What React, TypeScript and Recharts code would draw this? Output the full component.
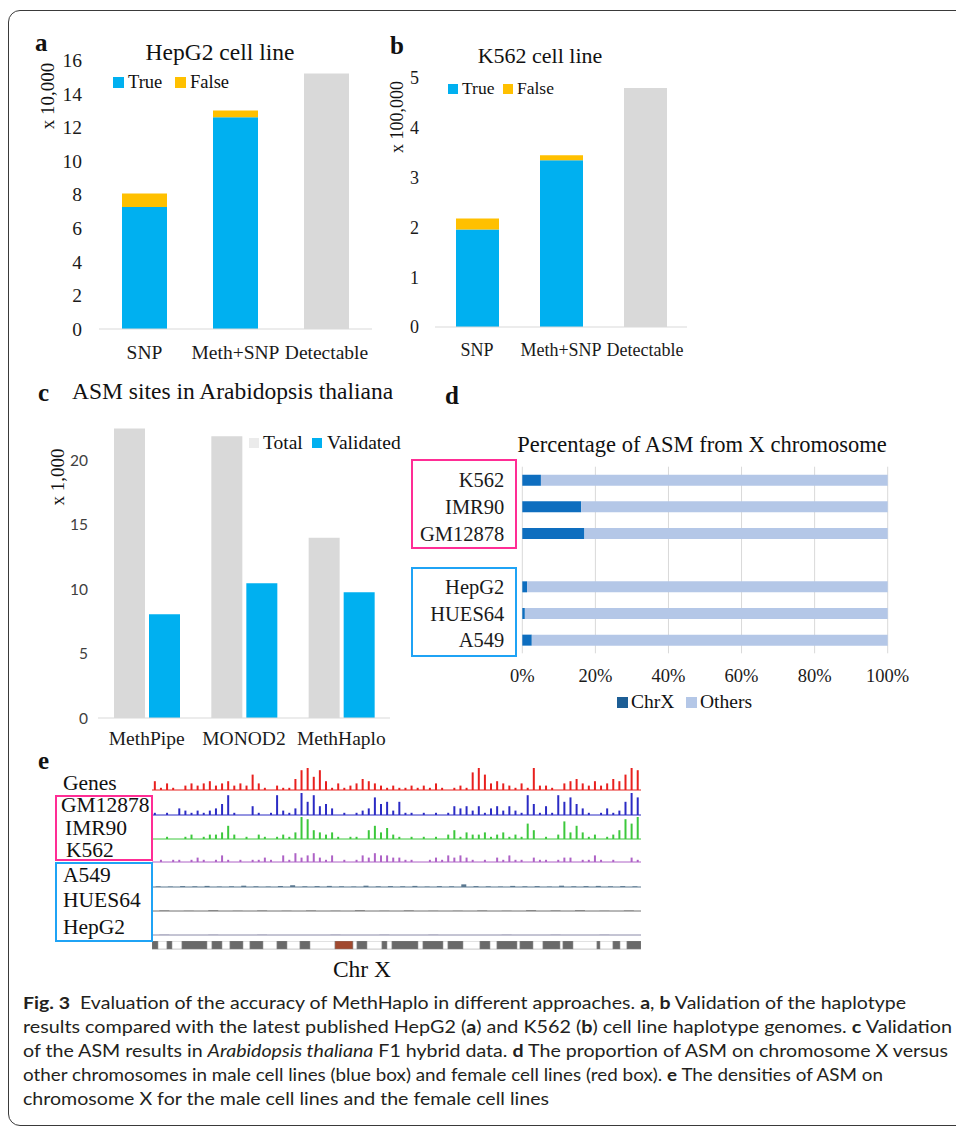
import React from "react";
import { Bar, BarChart, CartesianGrid, ReferenceLine, XAxis, YAxis } from "recharts";

const SERIF = '"Liberation Serif", "Times New Roman", serif';
const SANS = 'Lato, "Liberation Sans", sans-serif';

// a: HepG2 cell line (x 10,000)
const hepCategories = ["SNP", "Meth+SNP", "Detectable"];
const hepTrue = [7.26, 12.6, 0];
const hepFalse = [0.8, 0.4, 0];
const hepDetectable = [0, 0, 15.2];
const hepTicks = [0, 2, 4, 6, 8, 10, 12, 14, 16];

// b: K562 cell line (x 100,000)
const k562Categories = ["SNP", "Meth+SNP", "Detectable"];
const k562True = [1.96, 3.35, 0];
const k562False = [0.22, 0.1, 0];
const k562Detectable = [0, 0, 4.8];
const k562Ticks = [0, 1, 2, 3, 4, 5];

// c: ASM sites in Arabidopsis thaliana (x 1,000)
const toolNames = ["MethPipe", "MONOD2", "MethHaplo"];
const asmTotal = [22.5, 21.9, 14.0];
const asmValidated = [8.06, 10.47, 9.77];
const asmTicks = [0, 5, 10, 15, 20];

// d: percentage of ASM from chrX
const cellLines = ["K562", "IMR90", "GM12878", "", "HepG2", "HUES64", "A549"];
const chrXPct = [5.1, 16.1, 17.0, 0, 1.3, 0.7, 2.6];
const othersPct = [94.9, 83.9, 83.0, 0, 98.7, 99.3, 97.4];
const pctTicks = [0, 20, 40, 60, 80, 100];

// e: ASM density along chr X (binned, 0-10)
const genesDensity = [
  4, 1, 3, 1, 0, 2, 3, 2, 3, 4, 2, 3, 4, 2, 3, 2, 7, 3, 1, 0,
  2, 1, 1, 5, 9, 10, 6, 9, 4, 1, 3, 1, 2, 3, 5, 4, 3, 2, 1, 2,
  1, 1, 2, 1, 2, 1, 3, 1, 0, 1, 2, 1, 8, 10, 7, 3, 4, 3, 2, 1,
  3, 1, 10, 2, 2, 1, 0, 3, 4, 5, 3, 2, 4, 2, 3, 5, 4, 7, 10, 9,
];
const gm12878Density = [
  1, 0, 1, 0, 3, 2, 1, 2, 1, 2, 3, 5, 9, 1, 0, 0, 4, 1, 0, 1,
  9, 2, 1, 3, 10, 6, 9, 4, 5, 3, 0, 1, 0, 1, 2, 3, 8, 5, 6, 2,
  6, 1, 1, 0, 1, 0, 1, 0, 1, 4, 3, 4, 2, 4, 1, 3, 4, 2, 4, 2,
  1, 9, 5, 1, 4, 1, 9, 6, 8, 5, 3, 1, 0, 1, 3, 1, 2, 6, 10, 8,
];
const imr90Density = [
  0, 0, 1, 0, 0, 1, 2, 0, 1, 2, 2, 3, 6, 2, 0, 1, 0, 2, 1, 0,
  1, 2, 1, 3, 10, 9, 4, 3, 2, 3, 1, 0, 1, 1, 0, 4, 6, 3, 5, 2,
  1, 0, 1, 0, 1, 0, 1, 0, 2, 4, 1, 3, 2, 2, 3, 1, 2, 3, 1, 2,
  1, 7, 4, 0, 1, 0, 2, 8, 3, 6, 3, 1, 2, 0, 1, 2, 4, 9, 7, 10,
];
const k562Density = [
  0, 1, 0, 1, 1, 0, 1, 2, 1, 0, 1, 3, 1, 0, 1, 0, 1, 1, 2, 1,
  0, 3, 1, 4, 2, 3, 4, 2, 1, 3, 0, 1, 0, 1, 3, 2, 4, 3, 3, 2,
  2, 1, 1, 0, 0, 1, 2, 1, 3, 2, 3, 2, 1, 0, 1, 0, 2, 1, 3, 1,
  1, 0, 2, 1, 1, 0, 1, 2, 2, 0, 1, 1, 3, 1, 0, 1, 0, 0, 2, 1,
];
const a549Density = [
  0.3, 0.2, 0.4, 0.3, 0.5, 0.2, 0.3, 0.6, 0.3, 0.2, 0.4, 0.8, 0.3, 0.4, 0.5, 0.3, 0.2, 0.6, 0.3, 0.4,
  0.3, 0.5, 0.2, 0.4, 0.3, 1.2, 0.4, 0.3, 0.2, 0.5, 0.3, 0.4, 0.2, 0.6, 0.3, 0.4, 0.5, 0.3, 0.4, 0.3,
];
const hues64Density = [0.2, 0.1, 0.3, 0.1, 0.2, 0.1, 0.2, 0.1, 0.3, 0.1, 0.2, 0.1, 0.1, 0.2, 0.1, 0.3, 0.2, 0.3, 0.1, 0.2];
const hepg2Density = [0.1, 0, 0.1, 0, 0.1, 0, 0, 0.1, 0, 0.1, 0, 0.1, 0, 0, 0.1, 0, 0.1, 0, 0.1, 0];

// chr X ideogram bands (length, stain)
const bandSizes = [6, 9, 5, 10, 25, 5, 10, 8, 13, 7, 13, 14, 10, 13, 10, 25, 18, 4, 10, 15, 5, 5, 26, 5, 20, 5, 15, 17, 10, 7, 20, 3, 13, 10, 17, 3, 10, 24, 3, 13, 7, 7, 14];
const bandStains = [
  "gpos", "gneg", "gpos", "gneg", "gpos", "gneg", "gpos", "gneg", "gpos", "gneg", "gpos", "gneg", "gpos", "gneg", "gpos", "gneg",
  "acen", "gneg", "gpos", "gneg", "gpos", "gneg", "gpos", "gneg", "gpos", "gneg", "gpos", "gneg", "gpos", "gneg", "gpos", "gneg",
  "gpos", "gneg", "gpos", "gneg", "gpos", "gneg", "gpos", "gneg", "gpos", "gneg", "gpos",
];
const stainColor: Record<string, string> = { gpos: "#6a6a6a", gneg: "#ffffff", acen: "#a1492f" };

const Txt = ({ x, y, size, children, anchor = "start", bold = false, family = SERIF, color = "#111" }: any) => {
  const tx = anchor === "middle" ? "-50%" : anchor === "end" ? "-100%" : "0";
  return (
    <div
      style={{
        position: "absolute", left: x, top: y, transform: `translate(${tx}, -50%)`,
        fontFamily: family, fontSize: size, fontWeight: bold ? 700 : 400,
        lineHeight: 1, whiteSpace: "nowrap", color,
      }}
    >
      {children}
    </div>
  );
};

const VTxt = ({ x, y, size, children }: any) => (
  <div
    style={{
      position: "absolute", left: x, top: y, transform: "translate(-50%, -50%) rotate(-90deg)",
      fontFamily: SERIF, fontSize: size, lineHeight: 1, whiteSpace: "nowrap", color: "#111",
    }}
  >
    {children}
  </div>
);

const Swatch = ({ x, y, size, color }: any) => (
  <div style={{ position: "absolute", left: x, top: y - size / 2, width: size, height: size, background: color }} />
);

const Box = ({ x, y, w, h, color }: any) => (
  <div style={{ position: "absolute", left: x, top: y, width: w, height: h, border: `2px solid ${color}`, boxSizing: "border-box" }} />
);

const serifTick = (size: number) => ({ fontFamily: SERIF, fontSize: size, fill: "#1a1a1a" });

function StackPanel({ left, top, width, height, margin, yWidth, xHeight, data, ticks, max, barSize, tickGap, fontSize }: any) {
  return (
    <div style={{ position: "absolute", left, top }}>
      <BarChart width={width} height={height} data={data} margin={margin} barSize={barSize}>
        <XAxis dataKey="cat" height={xHeight} interval={0} tickLine={false} axisLine={{ stroke: "#d9d9d9" }} tickMargin={10} tick={serifTick(fontSize)} />
        <YAxis width={yWidth} domain={[0, max]} ticks={ticks} axisLine={false} tickLine={false} tickMargin={tickGap} tick={serifTick(fontSize)} />
        <Bar dataKey="t" stackId="s" fill="#00b0f0" isAnimationActive={false} />
        <Bar dataKey="f" stackId="s" fill="#ffc000" isAnimationActive={false} />
        <Bar dataKey="d" stackId="s" fill="#d9d9d9" isAnimationActive={false} />
      </BarChart>
    </div>
  );
}

function Track({ values, color, baseline }: any) {
  const data = values.map((v: number, i: number) => ({ i, v }));
  return (
    <div style={{ position: "absolute", left: 152, top: baseline - 22 }}>
      <BarChart width={489} height={23} data={data} margin={{ top: 0, right: 0, left: 0, bottom: 1 }} barCategoryGap="30%">
        <XAxis dataKey="i" hide />
        <YAxis hide domain={[0, 10]} />
        <ReferenceLine y={0} stroke={color} strokeWidth={1} />
        <Bar dataKey="v" fill={color} isAnimationActive={false} />
      </BarChart>
    </div>
  );
}

const captionLines: [string, string][][] = [
  [["Fig. 3", "b"], ["  Evaluation of the accuracy of MethHaplo in different approaches. ", ""], ["a", "b"], [", ", ""], ["b", "b"], [" Validation of the haplotype", ""]],
  [["results compared with the latest published HepG2 (", ""], ["a", "b"], [") and K562 (", ""], ["b", "b"], [") cell line haplotype genomes. ", ""], ["c", "b"], [" Validation", ""]],
  [["of the ASM results in ", ""], ["Arabidopsis thaliana", "i"], [" F1 hybrid data. ", ""], ["d", "b"], [" The proportion of ASM on chromosome X versus", ""]],
  [["other chromosomes in male cell lines (blue box) and female cell lines (red box). ", ""], ["e", "b"], [" The densities of ASM on", ""]],
  [["chromosome X for the male cell lines and the female cell lines", ""]],
];
const captionWidths = [883, 929, 925, 860, 526];

export default function App() {
  const hepData = hepCategories.map((cat, i) => ({ cat, t: hepTrue[i], f: hepFalse[i], d: hepDetectable[i] }));
  const k562Data = k562Categories.map((cat, i) => ({ cat, t: k562True[i], f: k562False[i], d: k562Detectable[i] }));
  const asmData = toolNames.map((tool, i) => ({ tool, total: asmTotal[i], validated: asmValidated[i] }));
  const pctData = cellLines.map((cell, i) => ({ cell, chrX: chrXPct[i], others: othersPct[i] }));
  const bandRow: Record<string, any> = { name: "chrX" };
  bandSizes.forEach((s, i) => (bandRow["b" + i] = s));
  const bandTotal = bandSizes.reduce((a, b) => a + b, 0);

  return (
    <div style={{ position: "absolute", left: 0, top: 0, width: 956, height: 1130, overflow: "hidden", background: "#fff" }}>
      <div style={{ position: "absolute", left: 8, top: 10, width: 1000, height: 1116, border: "1.5px solid #3a3a3a", borderRadius: 12, boxSizing: "border-box" }} />

      {/* a */}
      <Txt x={35} y={42} size={25} bold>a</Txt>
      <Txt x={220} y={53} size={23.5} anchor="middle">HepG2 cell line</Txt>
      <VTxt x={47} y={96} size={19}>x 10,000</VTxt>
      <Swatch x={113} y={82} size={11} color="#00b0f0" />
      <Txt x={128} y={82} size={18.5}>True</Txt>
      <Swatch x={175} y={82} size={11} color="#ffc000" />
      <Txt x={190} y={82} size={18.5}>False</Txt>
      <StackPanel left={0} top={0} width={380} height={380} margin={{ top: 60, right: 8, left: 0, bottom: 0 }}
        yWidth={99} xHeight={51} data={hepData} ticks={hepTicks} max={16} barSize={45} tickGap={11} fontSize={19.5} />

      {/* b */}
      <Txt x={390} y={45} size={25} bold>b</Txt>
      <Txt x={540} y={56} size={22} anchor="middle">K562 cell line</Txt>
      <VTxt x={397} y={117} size={18}>x 100,000</VTxt>
      <Swatch x={448} y={89} size={10} color="#00b0f0" />
      <Txt x={462} y={89} size={17.5}>True</Txt>
      <Swatch x={503} y={89} size={10} color="#ffc000" />
      <Txt x={517} y={89} size={17.5}>False</Txt>
      <StackPanel left={380} top={0} width={320} height={380} margin={{ top: 78, right: 13, left: 0, bottom: 0 }}
        yWidth={55} xHeight={53} data={k562Data} ticks={k562Ticks} max={5} barSize={43} tickGap={10} fontSize={18} />

      {/* c */}
      <Txt x={38} y={392} size={25} bold>c</Txt>
      <Txt x={72} y={392} size={23.5}>ASM sites in Arabidopsis thaliana</Txt>
      <VTxt x={57} y={477} size={19}>x 1,000</VTxt>
      <Swatch x={249} y={443} size={10} color="#ebebeb" />
      <Txt x={263} y={443} size={19.5}>Total</Txt>
      <Swatch x={312} y={443} size={10} color="#00b0f0" />
      <Txt x={327} y={443} size={19.5}>Validated</Txt>
      <div style={{ position: "absolute", left: 0, top: 380 }}>
        <BarChart width={400} height={372} data={asmData} margin={{ top: 16.3, right: 10, left: 0, bottom: 0 }} barSize={31} barGap={4}>
          <XAxis dataKey="tool" height={34} interval={0} tickLine={false} axisLine={{ stroke: "#d9d9d9" }} tickMargin={7} tick={serifTick(19.5)} />
          <YAxis width={98} domain={[0, 25]} ticks={asmTicks} axisLine={false} tickLine={false} tickMargin={4}
            tick={{ fontFamily: SANS, fontSize: 15.5, fill: "#404040" }} />
          <Bar dataKey="total" fill="#d9d9d9" isAnimationActive={false} />
          <Bar dataKey="validated" fill="#00b0f0" isAnimationActive={false} />
        </BarChart>
      </div>

      {/* d */}
      <Txt x={445} y={395} size={25} bold>d</Txt>
      <Txt x={702} y={445} size={22.5} anchor="middle">Percentage of ASM from X chromosome</Txt>
      <div style={{ position: "absolute", left: 400, top: 380 }}>
        <BarChart layout="vertical" width={556} height={340} data={pctData} margin={{ top: 86.7, right: 68.3, left: 0, bottom: 36.7 }} barSize={11}>
          <CartesianGrid horizontal={false} stroke="#d9d9d9" />
          <XAxis type="number" domain={[0, 100]} ticks={pctTicks} tickFormatter={(v: number) => v + "%"} height={30}
            axisLine={false} tickLine={false} tickMargin={10} tick={serifTick(18.5)} />
          <YAxis type="category" dataKey="cell" width={122.3} interval={0} axisLine={false} tickLine={false} tickMargin={12}
            tick={serifTick(20.5)} />
          <Bar dataKey="chrX" stackId="p" fill="#0e6ebf" isAnimationActive={false} />
          <Bar dataKey="others" stackId="p" fill="#b4c7e7" isAnimationActive={false} />
        </BarChart>
      </div>
      <Box x={411} y={459} w={106} h={90} color="#ff2d95" />
      <Box x={411} y={567} w={106} h={90} color="#1fa3f5" />
      <Swatch x={617} y={702} size={11} color="#1d5e95" />
      <Txt x={631} y={702} size={19.5}>ChrX</Txt>
      <Swatch x={686} y={702} size={11} color="#b4c7e7" />
      <Txt x={700} y={702} size={19.5}>Others</Txt>

      {/* e */}
      <Txt x={38} y={760} size={25} bold>e</Txt>
      <Txt x={63} y={784} size={21.5}>Genes</Txt>
      <Txt x={61} y={806} size={21.5}>GM12878</Txt>
      <Txt x={65} y={829} size={21.5}>IMR90</Txt>
      <Txt x={66} y={851} size={21.5}>K562</Txt>
      <Txt x={63} y={876} size={21.5}>A549</Txt>
      <Txt x={63} y={901} size={21.5}>HUES64</Txt>
      <Txt x={63} y={928} size={21.5}>HepG2</Txt>
      <Track values={genesDensity} color="#e8201e" baseline={790} />
      <Track values={gm12878Density} color="#2b2bc4" baseline={815} />
      <Track values={imr90Density} color="#3cc83c" baseline={839} />
      <Track values={k562Density} color="#ae62c6" baseline={862} />
      <Track values={a549Density} color="#5a7890" baseline={887} />
      <Track values={hues64Density} color="#707070" baseline={911} />
      <Track values={hepg2Density} color="#8a8aa8" baseline={935} />
      <div style={{ position: "absolute", left: 152, top: 941 }}>
        <BarChart layout="vertical" width={489} height={9} data={[bandRow]} margin={{ top: 0, right: 0, left: 0, bottom: 0 }} barSize={9}>
          <XAxis type="number" hide domain={[0, bandTotal]} />
          <YAxis type="category" dataKey="name" hide />
          {bandSizes.map((_, i) => (
            <Bar key={i} dataKey={"b" + i} stackId="c" fill={stainColor[bandStains[i]]} stroke="#8a8a8a" strokeWidth={0.5} isAnimationActive={false} />
          ))}
        </BarChart>
      </div>
      <Box x={55} y={795} w={98} h={66} color="#ff2d95" />
      <Box x={55} y={862} w={98} h={80} color="#1fa3f5" />
      <Txt x={362} y={970} size={23.5} anchor="middle">Chr X</Txt>

      {/* caption */}
      <svg style={{ position: "absolute", left: 0, top: 985 }} width={956} height={140}>
        {captionLines.map((parts, li) => (
          <text key={li} x={23} y={24 + li * 24} textLength={captionWidths[li]} lengthAdjust="spacingAndGlyphs"
            style={{ fontFamily: SANS, fontSize: 17.5, fill: "#231f20", whiteSpace: "pre" }}>
            {parts.map(([s, f], pi) => (
              <tspan key={pi} fontWeight={f === "b" ? 700 : 400} fontStyle={f === "i" ? "italic" : "normal"}>{s}</tspan>
            ))}
          </text>
        ))}
      </svg>
    </div>
  );
}
